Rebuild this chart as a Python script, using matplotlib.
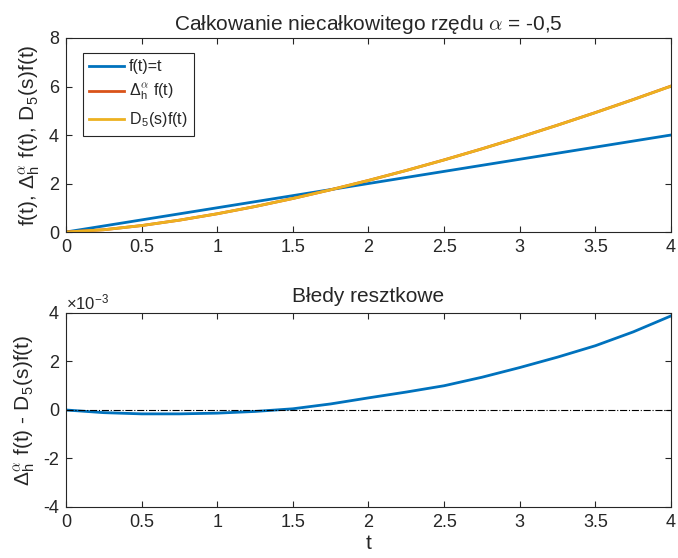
import matplotlib
matplotlib.use('Agg')
import matplotlib.pyplot as plt
import numpy as np

# values
t = [0, 0.25, 0.5, 0.75, 1, 1.25, 1.5, 1.75, 2, 2.25, 2.5, 2.75, 3, 3.25, 3.5, 3.75, 4]
f_t = [0, 0.25, 0.5, 0.75, 1, 1.25, 1.5, 1.75, 2, 2.25, 2.5, 2.75, 3, 3.25, 3.5, 3.75, 4]
delta_h = [0, 0.094, 0.266, 0.489, 0.752, 1.051, 1.382, 1.742, 2.128, 2.539,
           2.974, 3.431, 3.909, 4.408, 4.926, 5.463, 6.018]
# residual errors (x 1e-3)
err = [0, -0.11, -0.16, -0.16, -0.13, -0.06, 0.05, 0.25, 0.50, 0.74,
       1.00, 1.35, 1.75, 2.18, 2.65, 3.22, 3.88]
d5 = [d - e * 1e-3 for d, e in zip(delta_h, err)]
xt = [0, 0.5, 1, 1.5, 2, 2.5, 3, 3.5, 4]
xt_labels = ['0', '0.5', '1', '1.5', '2', '2.5', '3', '3.5', '4']

plt.rcParams['font.family'] = ['Liberation Sans', 'DejaVu Sans']
plt.rcParams['mathtext.fontset'] = 'custom'
plt.rcParams['mathtext.rm'] = 'Liberation Sans'
plt.rcParams['mathtext.it'] = 'cmmi10'
plt.rcParams['font.size'] = 13
gray = '#262626'
for k in ['axes.edgecolor', 'xtick.color', 'ytick.color', 'axes.labelcolor', 'text.color']:
    plt.rcParams[k] = gray
plt.rcParams['xtick.direction'] = 'in'
plt.rcParams['ytick.direction'] = 'in'
plt.rcParams['xtick.top'] = True
plt.rcParams['ytick.right'] = True
plt.rcParams['axes.linewidth'] = 0.8

c1, c2, c3 = '#0072BD', '#D95319', '#EDB120'

fig = plt.figure(figsize=(6.78, 5.58), dpi=100)
ax1 = fig.add_axes([0.0973, 0.5842, 0.8924, 0.3477])
ax2 = fig.add_axes([0.0973, 0.0914, 0.8924, 0.3477])

ax1.plot(t, f_t, color=c1, lw=2, label='f(t)=t')
ax1.plot(t, delta_h, color=c2, lw=2, label=r'$\Delta_{\mathrm{h}}^{\alpha}$ f(t)')
ax1.plot(t, d5, color=c3, lw=2, label=r'D$_5$(s)f(t)')
ax1.set_xlim(0, 4)
ax1.set_ylim(0, 8)
ax1.set_xticks(xt)
ax1.set_xticklabels(xt_labels)
ax1.set_yticks([0, 2, 4, 6, 8])
ax1.set_ylabel(r'f(t), $\Delta_{\mathrm{h}}^{\alpha}$ f(t), D$_5$(s)f(t)', fontsize=15, labelpad=4)
ax1.set_title(r'Całkowanie niecałkowitego rzędu $\alpha$ = -0,5', fontsize=15, pad=6)
leg = ax1.legend(loc='upper left', bbox_to_anchor=(0.028, 0.923), borderaxespad=0,
                 fancybox=False, edgecolor=gray, framealpha=1, handlelength=2.2,
                 fontsize=11.5, labelspacing=0.5, handletextpad=0.3, borderpad=0.4)
leg.get_frame().set_linewidth(0.8)

err_scaled = [e * 1e-3 for e in err]
ax2.plot(t, err_scaled, color=c1, lw=2)
ax2.axhline(0, color='black', lw=0.8, linestyle='-.')
ax2.set_xlim(0, 4)
ax2.set_ylim(-4e-3, 4e-3)
ax2.set_xticks(xt)
ax2.set_xticklabels(xt_labels)
ax2.set_yticks([-4e-3, -2e-3, 0, 2e-3, 4e-3])
ax2.set_yticklabels(['-4', '-2', '0', '2', '4'])
ax2.text(0.0, 1.005, r'$\times$10$^{-3}$', transform=ax2.transAxes, fontsize=12, va='bottom')
ax2.set_xlabel('t', fontsize=15, labelpad=2)
ax2.set_ylabel(r'$\Delta_{\mathrm{h}}^{\alpha}$ f(t) - D$_5$(s)f(t)', fontsize=15, labelpad=4)
ax2.set_title('Błedy resztkowe', fontsize=15, pad=8)

for ax in (ax1, ax2):
    ax.tick_params(length=4, width=0.8, labelsize=13, pad=5)

fig.savefig('out.png', dpi=100)
